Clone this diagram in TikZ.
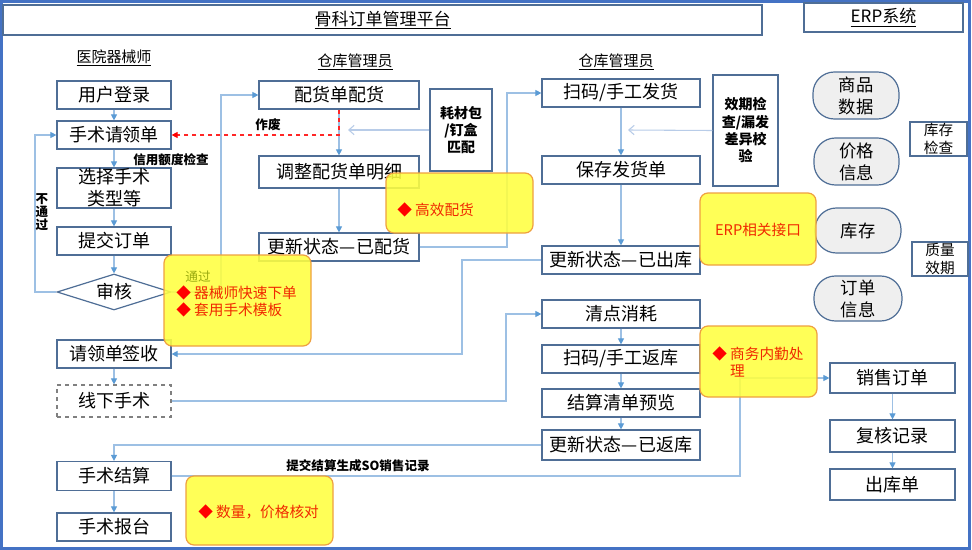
\documentclass[tikz,border=0pt]{standalone}
\usepackage{fontspec}
\setmainfont{Noto Sans CJK SC}
\usetikzlibrary{arrows.meta,shapes.geometric}
\definecolor{bx}{HTML}{4F6E96}
\definecolor{ln}{HTML}{9DC0E4}
\definecolor{tip}{HTML}{5B9BD5}
\definecolor{frame}{HTML}{4472C4}
\definecolor{yel}{HTML}{FFFF40}
\definecolor{yelb}{HTML}{EFA040}
\definecolor{rtxt}{HTML}{F02800}
\definecolor{oliv}{HTML}{9AAA10}
\definecolor{grayf}{HTML}{EFEFEF}
\definecolor{light}{HTML}{B8CCE8}
\tikzset{
  sz/.style 2 args={minimum width=#1*0.75pt, minimum height=#2*0.75pt},
  box/.style={draw=bx, line width=0.9pt, fill=white, inner sep=0pt, align=center, font=\fontsize{13.5}{16.5}\selectfont},
  smallbox/.style={box, font=\fontsize{11}{13}\selectfont},
  boldbox/.style={box, font=\fontsize{10.5}{13}\selectfont\bfseries},
  pill/.style={box, fill=grayf, rounded corners=16pt, font=\fontsize{13}{16.5}\selectfont},
  heading/.style={inner sep=0pt, font=\fontsize{11.25}{13}\selectfont},
  lbl/.style={inner sep=0pt, font=\fontsize{9.4}{10.5}\selectfont\bfseries, align=center},
  note/.style={draw=yelb, line width=0.9pt, fill=yel, fill opacity=0.88, rounded corners=6pt, inner sep=0pt},
  notetxt/.style={inner sep=0pt, text=rtxt, font=\fontsize{11}{12.8}\selectfont, align=left},
  arr/.style={draw=ln, line width=0.8pt, -{Triangle[length=4.5pt,width=4.5pt,color=tip]}},
  larr/.style={draw=light, line width=0.8pt, -{Straight Barb[length=4pt,width=7pt]}},
  rarr/.style={draw=red!85!white, line width=0.8pt, dashed, -{Triangle[length=4.5pt,width=4.5pt,color=red]}},
}
\newcommand{\dia}{{\color{red}◆}}
\begin{document}
\begin{tikzpicture}[x=0.75pt,y=-0.75pt]
\useasboundingbox (0,0) rectangle (972,550);
\fill[white] (0,0) rectangle (972,550);
\draw[frame, line width=2.4pt] (1.5,1.5) rectangle (969.5,548.5);

% headers
\node[box, sz={759}{30}, font=\fontsize{12.75}{15}\selectfont] (title) at (382.5,20) {\underline{骨科订单管理平台}};
\node[box, sz={159}{29}, font=\fontsize{12.75}{15}\selectfont] (erp) at (883.5,17.5) {\underline{ERP系统}};
\node[heading] (h1) at (114,58) {\underline{医院器械师}};
\node[heading] (h2) at (355,62) {\underline{仓库管理员}};
\node[heading] (h3) at (616,62) {\underline{仓库管理员}};

% left column
\node[box, sz={114}{28}] (login) at (114,95) {用户登录};
\node[box, sz={114}{28}] (req) at (114,135) {手术请领单};
\node[box, sz={114}{40}] (sel) at (114,188) {选择手术\\类型等};
\node[box, sz={114}{28}] (sub) at (114,241) {提交订单};
\node[box, diamond, aspect=3, sz={114}{36}] (aud) at (114,292) {审核};
\node[box, sz={114}{28}] (sign) at (114,354) {请领单签收};
\node[box, sz={114}{32}, dashed, draw=gray] (off) at (114,401) {线下手术};
\node[box, sz={114}{29}] (settle) at (114,476) {手术结算};
\node[box, sz={114}{28}] (rep) at (114,527) {手术报台};

% middle column
\node[box, sz={160}{28}] (alloc) at (339,95) {配货单配货};
\node[box, sz={160}{32}] (adj) at (339,172) {调整配货单明细};
\node[box, sz={160}{28}] (ualloc) at (339,247) {更新状态—已配货};
\node[boldbox, sz={62}{82}] (match) at (461,130) {耗材包\\/钉盒\\匹配};

% right column
\node[box, sz={158}{28}] (scan) at (621,93) {扫码/手工发货};
\node[box, sz={158}{28}] (save) at (621,170) {保存发货单};
\node[box, sz={158}{28}] (uout) at (621,260) {更新状态—已出库};
\node[boldbox, sz={65}{111}] (chk) at (745.5,130.5) {效期检\\查/漏发\\差异校\\验};
\node[box, sz={158}{28}] (cnt) at (621,314) {清点消耗};
\node[box, sz={158}{28}] (ret) at (621,359) {扫码/手工返库};
\node[box, sz={158}{28}] (prev) at (621,403) {结算清单预览};
\node[box, sz={158}{30}] (uret) at (621,445) {更新状态—已返库};

% ERP column
\node[pill, sz={86}{47}] (goods) at (856,95.5) {商品\\数据};
\node[pill, sz={85}{47}] (price) at (856.5,161.5) {价格\\信息};
\node[pill, sz={86}{45}] (stock) at (858,230.5) {库存};
\node[pill, sz={88}{45}] (ord) at (858,298.5) {订单\\信息};
\node[smallbox, sz={57}{34}] (schk) at (938.5,139) {库存\\检查};
\node[smallbox, sz={56}{34}] (qual) at (940,259) {质量\\效期};
\node[box, sz={125}{30}] (so) at (892.5,378) {销售订单};
\node[box, sz={125}{32}] (rev) at (892.5,436) {复核记录};
\node[box, sz={125}{31}] (outb) at (892.5,484.5) {出库单};

% coordinates
\coordinate (nopass) at (35,292);
\coordinate (pass) at (221,292);
\coordinate (c1) at (507,247);
\coordinate (c2) at (462,260);
\coordinate (c3) at (506,401);
\coordinate (c4) at (740,476);
\coordinate (redc) at (339,135);
\coordinate (m1) at (348,130);
\coordinate (m2) at (628,130);

% connectors left
\draw[arr] (login) -- (req);
\draw[arr] (req) -- (sel);
\draw[arr] (sel) -- (sub);
\draw[arr] (sub) -- (aud);
\draw[arr] (aud.west) -- (nopass) |- (req.west);
\draw[arr] (aud.east) -- (pass) |- (alloc.west);
\draw[arr] (sign) -- (off);
\draw[arr] (settle) -- (rep);

% middle
\draw[arr] (alloc) -- (adj);
\draw[rarr] (alloc.south) -- (redc) -- (req.east);
\draw[larr] (match.west) -- (m1);
\draw[arr] (adj) -- (ualloc);
\draw[arr] (ualloc.east) -- (c1) |- (scan.west);

% right
\draw[arr] (scan) -- (save);
\draw[larr] (chk.west) -- (m2);
\draw[arr] (save) -- (uout);
\draw[arr] (uout.west) -- (c2) |- (sign.east);
\draw[arr] (off.east) -- (c3) |- (cnt.west);
\draw[arr] (cnt) -- (ret);
\draw[arr] (ret) -- (prev);
\draw[arr] (prev) -- (uret);
\draw[arr] (uret.west) -| (settle.north);
\draw[arr] (settle.east) -- (c4) |- (so.west);
\draw[arr] (so) -- (rev);
\draw[arr] (rev) -- (outb);

% labels
\node[lbl] (l1) at (171,160) {信用额度检查};
\node[lbl] (l2) at (268,125) {作废};
\node[lbl, font=\fontsize{9.4}{10.5}\selectfont\bfseries] (l3) at (42,212) {不\\[-1pt]通\\[-1pt]过};
\node[lbl] (l4) at (358,466) {提交结算生成SO销售记录};

% yellow notes
\node[note, sz={147}{91}] (n1) at (237.5,300.5) {};
\node[inner sep=0pt, text=oliv, font=\fontsize{9.5}{11}\selectfont] (n1a) at (198,277) {通过};
\node[notetxt, anchor=west] (n1b) at (176,301) {\dia\ 器械师快速下单\\\dia\ 套用手术模板};
\node[note, sz={147}{60}] (n2) at (459.5,203) {};
\node[notetxt, anchor=west] (n2a) at (397,210) {\dia\ 高效配货};
\node[note, sz={116}{72}] (n3) at (758,229) {};
\node[notetxt] (n3a) at (758,230) {ERP相关接口};
\node[note, sz={117}{71}] (n4) at (758.5,361.5) {};
\node[notetxt, anchor=west] (n4a) at (712,362) {\dia\ 商务内勤处\\\hphantom{◆\ }理};
\node[note, sz={147}{69}] (n5) at (259.5,510.5) {};
\node[notetxt, anchor=west] (n5a) at (198,512) {\dia\ 数量，价格核对};
\end{tikzpicture}
\end{document}
